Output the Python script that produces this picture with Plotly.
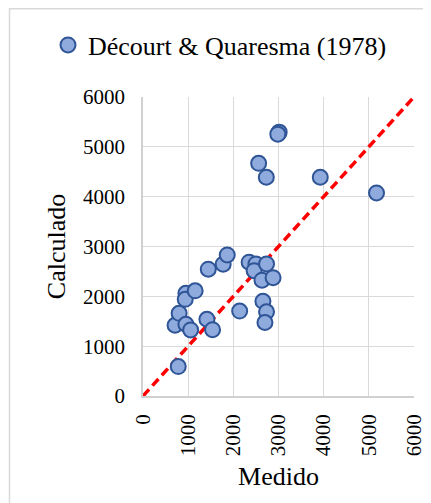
import plotly.graph_objects as go

# Data
medido = [780, 710, 800, 950, 1055, 950, 935, 1155, 1415, 1540, 1445, 1775, 1865,
          2140, 2350, 2500, 2460, 2735, 2635, 2880, 2655, 2735, 2700, 3015, 2985,
          2560, 2730, 3925, 5170]
calculado = [590, 1420, 1660, 1440, 1325, 2060, 1940, 2110, 1540, 1330, 2545, 2645, 2830,
             1705, 2685, 2650, 2515, 2650, 2325, 2375, 1900, 1690, 1475, 5295, 5255,
             4670, 4390, 4390, 4075]
ref_line = [0, 6000]
tick_vals = [0, 1000, 2000, 3000, 4000, 5000, 6000]
series_name = "Décourt & Quaresma (1978)"

FONT = "Liberation Serif, Times New Roman, serif"

# The page body adds an 8px offset, so the figure is sized/placed to compensate.
W, H = 423, 495
L, T, R, B = 135, 89, 17, 107
PW, PH = W - L - R, H - T - B

fig = go.Figure()
fig.add_trace(go.Scatter(
    x=ref_line, y=ref_line, mode="lines", showlegend=False,
    line=dict(color="#FF0000", width=3.5, dash="9px,5px"), hoverinfo="skip"))
fig.add_trace(go.Scatter(
    x=medido, y=calculado, mode="markers", name=series_name,
    marker=dict(size=15, color="#8FAADC", line=dict(color="#2F5597", width=2))))

axis_common = dict(
    range=[0, 6000], tickvals=tick_vals, showgrid=True, gridcolor="#D9D9D9",
    gridwidth=1.3, showline=True, linecolor="#D0D0D0", linewidth=1.5,
    zeroline=False, ticks="", tickfont=dict(family=FONT, size=21, color="#000"),
    fixedrange=True)

fig.update_layout(
    width=W, height=H,
    margin=dict(l=L, r=R, t=T, b=B, autoexpand=False),
    paper_bgcolor="white", plot_bgcolor="white",
    font=dict(family=FONT, color="#000"),
    showlegend=True,
    legend=dict(orientation="h", xref="container", yref="container",
                x=40 / W, xanchor="left", y=1 - 37 / H, yanchor="middle",
                font=dict(family=FONT, size=26, color="#000"),
                bgcolor="rgba(0,0,0,0)", itemwidth=30),
    xaxis=dict(axis_common, tickangle=-90, ticklabelstandoff=8,
               title=dict(text="Medido", font=dict(family=FONT, size=26), standoff=12)),
    yaxis=dict(axis_common, ticklabelstandoff=12,
               title=dict(text="Calculado", font=dict(family=FONT, size=26), standoff=10)),
    shapes=[dict(type="rect", xref="paper", yref="paper",
                 x0=(1.5 - L) / PW, x1=1.3, y0=-0.6, y1=(H - B - 0.8) / PH,
                 line=dict(color="#D9D9D9", width=1.5), layer="below")],
)

fig.write_html("out.html")
